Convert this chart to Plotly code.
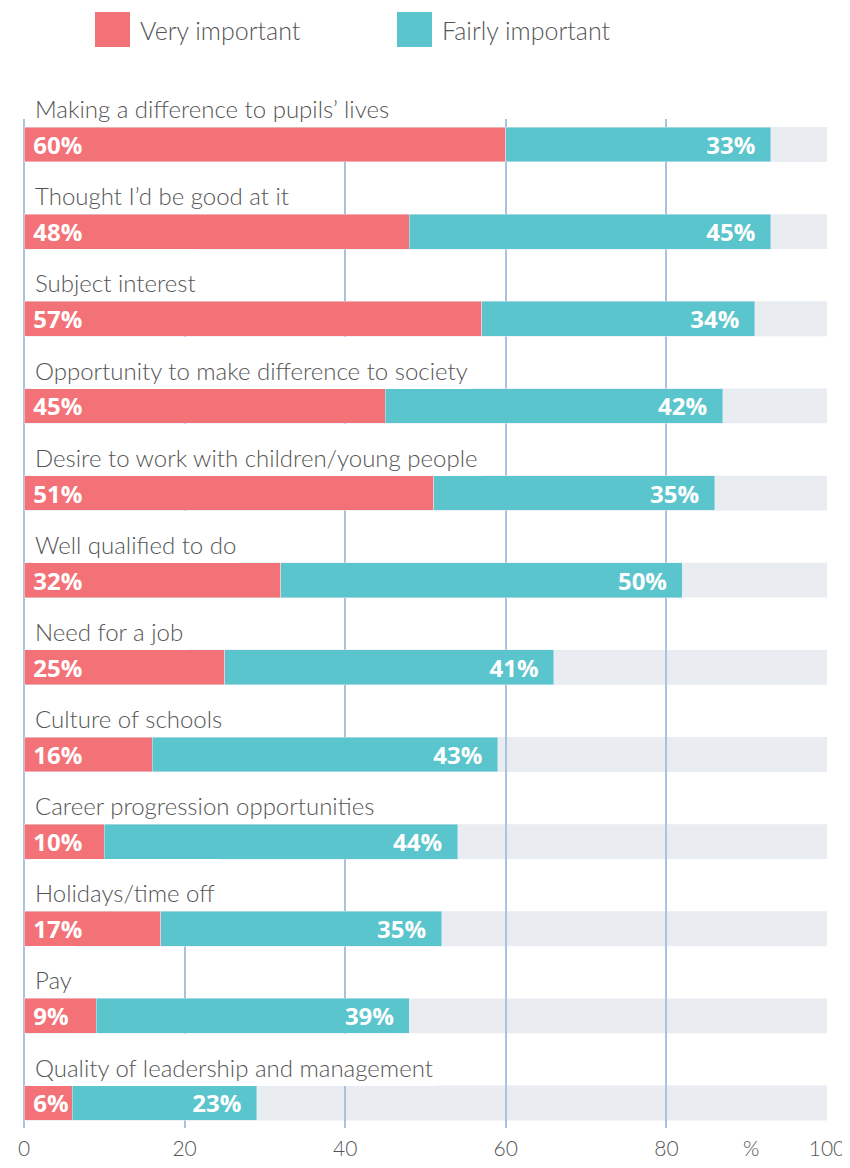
import plotly.graph_objects as go

categories = [
    "Making a difference to pupils’ lives",
    "Thought I’d be good at it",
    "Subject interest",
    "Opportunity to make difference to society",
    "Desire to work with children/young people",
    "Well qualified to do",
    "Need for a job",
    "Culture of schools",
    "Career progression opportunities",
    "Holidays/time off",
    "Pay",
    "Quality of leadership and management",
]
very_important = [60, 48, 57, 45, 51, 32, 25, 16, 10, 17, 9, 6]
fairly_important = [33, 45, 34, 42, 35, 50, 41, 43, 44, 35, 39, 23]
tick_vals = [0, 20, 40, 60, 80, 100]

RED = "#F37277"
CYAN = "#5BC5CD"
GREY_BG = "#E9ECF1"
GRID = "#A9C3DC"
TEXT = "#555555"
LABEL_FONT = "Lato, 'Open Sans', sans-serif"
BAR_FONT = "'Open Sans', Lato, sans-serif"

BAR_W = 0.4
ROW_PX = 87.1
BAR_PX = BAR_W * ROW_PX
GAP_PX = ROW_PX - BAR_PX
PAD = 4

# plot area size in px (page body adds an 8px margin around the figure)
PLOT_W = 803
PLOT_H = 1009

nbsp = "\u00a0"

fig = go.Figure()
fig.add_trace(
    go.Bar(
        y=categories,
        x=very_important,
        orientation="h",
        width=BAR_W,
        marker_color=RED,
        text=[f"{nbsp}{v}%" for v in very_important],
        textposition="inside",
        insidetextanchor="start",
        constraintext="none",
        textfont=dict(family=BAR_FONT, size=24, color="white", weight="bold"),
        showlegend=False,
        hoverinfo="skip",
    )
)
fig.add_trace(
    go.Bar(
        y=categories,
        x=fairly_important,
        orientation="h",
        width=BAR_W,
        marker_color=CYAN,
        text=[f"{f}%{nbsp}{nbsp}" for f in fairly_important],
        textposition="inside",
        insidetextanchor="end",
        constraintext="none",
        textfont=dict(family=BAR_FONT, size=24, color="white", weight="bold"),
        showlegend=False,
        hoverinfo="skip",
    )
)

# grey 0-100 track behind each bar, drawn under the gridlines
for i, cat in enumerate(categories):
    fig.add_shape(
        type="rect",
        xref="x",
        yref="y",
        x0=0,
        x1=100,
        y0=i - BAR_W / 2,
        y1=i + BAR_W / 2,
        fillcolor=GREY_BG,
        line_width=0,
        layer="below",
    )

# category labels above each bar; white box hides gridlines behind the text
for cat in categories:
    fig.add_annotation(
        x=0,
        y=cat,
        xref="x",
        yref="y",
        xanchor="left",
        yanchor="bottom",
        xshift=11 - PAD,
        yshift=BAR_PX / 2,
        height=GAP_PX - 2 * PAD,
        valign="bottom",
        text=cat,
        showarrow=False,
        bgcolor="white",
        borderpad=PAD,
        borderwidth=0,
        font=dict(family=LABEL_FONT, size=24, color=TEXT, weight=300),
    )

# "%" unit label between the 80 and 100 ticks
fig.add_annotation(
    x=90.5,
    y=0,
    xref="x",
    yref="paper",
    yanchor="top",
    yshift=-5,
    text="%",
    showarrow=False,
    font=dict(family=LABEL_FONT, size=21, color=TEXT, weight=300),
)

# hand-drawn legend so the swatches can be large
legend_items = [("Very important", RED, 95), ("Fairly important", CYAN, 397)]
for name, color, px in legend_items:
    x0 = (px - 24) / PLOT_W
    fig.add_shape(
        type="rect",
        xref="paper",
        yref="paper",
        x0=x0,
        x1=x0 + 35 / PLOT_W,
        y0=(1128 - 47) / PLOT_H,
        y1=(1128 - 12) / PLOT_H,
        fillcolor=color,
        line_width=0,
    )
    fig.add_annotation(
        x=x0 + 43 / PLOT_W,
        y=(1128 - 29.5) / PLOT_H,
        xref="paper",
        yref="paper",
        xanchor="left",
        yanchor="middle",
        text=name,
        showarrow=False,
        font=dict(family=LABEL_FONT, size=25, color=TEXT, weight=300),
    )

fig.update_layout(
    barmode="stack",
    width=842,
    height=1152,
    margin=dict(l=16, r=23, t=111, b=32, autoexpand=False),
    plot_bgcolor="white",
    paper_bgcolor="white",
    showlegend=False,
)
fig.update_xaxes(
    range=[0, 100],
    tickvals=tick_vals,
    showgrid=True,
    gridcolor=GRID,
    gridwidth=1.5,
    zeroline=True,
    zerolinecolor=GRID,
    zerolinewidth=1.5,
    showline=False,
    ticks="",
    ticklabelstandoff=6,
    ticklabeloverflow="allow",
    automargin=False,
    tickfont=dict(family=LABEL_FONT, size=21, color=TEXT, weight=300),
)
fig.update_yaxes(
    range=[11.287, -0.293],
    showticklabels=False,
    showgrid=False,
    zeroline=False,
    ticks="",
)

fig.write_html("out.html")
